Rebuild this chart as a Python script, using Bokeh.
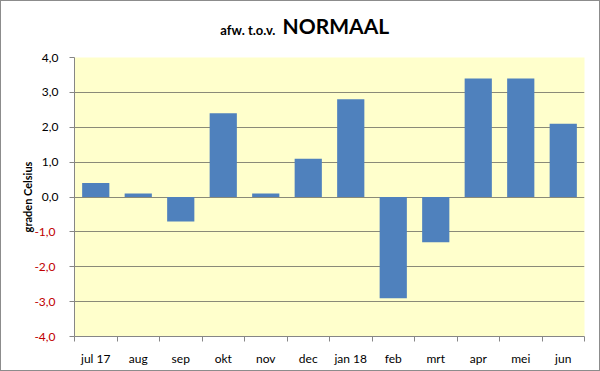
from bokeh.plotting import figure
from bokeh.models import Range1d, FixedTicker, LinearAxis
from bokeh.embed import file_html
from bokeh.resources import INLINE

months = ["jul 17", "aug", "sep", "okt", "nov", "dec", "jan 18", "feb", "mrt", "apr", "mei", "jun"]
deviation = [0.4, 0.1, -0.7, 2.4, 0.1, 1.1, 2.8, -2.9, -1.3, 3.4, 3.4, 2.1]
y_ticks = [-4, -3, -2, -1, 0, 1, 2, 3, 4]
y_tick_labels = ["-4,0", "-3,0", "-2,0", "-1,0", "0,0", "1,0", "2,0", "3,0", "4,0"]
title_small = "afw. t.o.v."
title_big = "NORMAAL"

FONT = "Lato"
xs = list(range(len(months)))
FW, FH = 510, 279
x_range = Range1d(-0.5, len(months) - 0.5)
y_range = Range1d(-4, 4)

p = figure(width=598, height=369, output_backend="svg", toolbar_location=None,
           frame_width=FW, frame_height=FH, x_range=x_range, y_range=y_range,
           min_border_left=73, min_border_right=15, min_border_top=56, min_border_bottom=34)
p.styles = {"border": "1px solid #8c8c8c"}
p.background_fill_color = "#FFFFCC"
p.border_fill_color = "white"
p.outline_line_color = None

p.vbar(x=xs, top=deviation, bottom=0, width=0.64, fill_color="#4F81BD", line_color=None)

# x axis: labels at category centres, tick marks at category boundaries
p.xaxis.ticker = FixedTicker(ticks=xs, minor_ticks=[i - 0.5 for i in range(len(months) + 1)])
p.xaxis.major_label_overrides = {i: m for i, m in zip(xs, months)}
p.xaxis.major_tick_out = 0
p.xaxis.major_tick_in = 0
p.xaxis.minor_tick_out = 5
p.xaxis.minor_tick_in = 0
p.xaxis.major_label_standoff = 9
p.xaxis.axis_line_color = "#868686"
p.xaxis.minor_tick_line_color = "#868686"
p.xaxis.major_label_text_font = FONT
p.xaxis.major_label_text_font_size = "12px"
p.xaxis.major_label_text_color = "black"
p.xgrid.grid_line_color = None

# inner y axis: line, ticks and black labels for 0 and positive values
p.yaxis.ticker = FixedTicker(ticks=y_ticks)
p.yaxis.major_label_overrides = {t: (l if t >= 0 else "") for t, l in zip(y_ticks, y_tick_labels)}
p.yaxis.major_tick_out = 5
p.yaxis.major_tick_in = 0
p.yaxis.minor_tick_line_color = None
p.yaxis.major_label_standoff = 11
p.yaxis.axis_line_color = "#868686"
p.yaxis.major_tick_line_color = "#868686"
p.yaxis.major_label_text_font = FONT
p.yaxis.major_label_text_font_size = "12px"
p.yaxis.major_label_text_color = "black"
p.ygrid.grid_line_color = "#8a8a78"
p.ygrid.ticker = FixedTicker(ticks=y_ticks)

# outer y axis, pulled back over the inner one: red labels for negative values + axis title
neg = [(t, l) for t, l in zip(y_ticks, y_tick_labels) if t < 0]
yneg = LinearAxis(ticker=FixedTicker(ticks=[t for t, _ in neg]),
                  major_label_overrides={t: l for t, l in neg},
                  major_tick_out=0, major_tick_in=0, major_tick_line_color=None,
                  minor_tick_line_color=None, axis_line_color=None,
                  major_label_standoff=-17, major_label_text_color="#C00000",
                  major_label_text_font=FONT, major_label_text_font_size="12px",
                  axis_label="graden Celsius", axis_label_text_font=FONT,
                  axis_label_text_font_size="11px", axis_label_text_font_style="bold",
                  axis_label_text_color="black", axis_label_standoff=-3)
p.add_layout(yneg, "left")

# title: two parts in different sizes, on two stacked axes above the frame
def title_axis(text, xpos, size, standoff):
    ax = LinearAxis(ticker=FixedTicker(ticks=[xpos]), major_label_overrides={xpos: text},
                    major_tick_out=0, major_tick_in=0, major_tick_line_color=None,
                    minor_tick_line_color=None, axis_line_color=None,
                    major_label_standoff=standoff, major_label_text_color="black",
                    major_label_text_font=FONT, major_label_text_font_size=size,
                    major_label_text_font_style="bold")
    p.add_layout(ax, "above")

title_axis(title_small, 3.58, "13px", 20)
title_axis(title_big, 5.65, "21px", -19)

open("out.html", "w").write(file_html(p, INLINE))
